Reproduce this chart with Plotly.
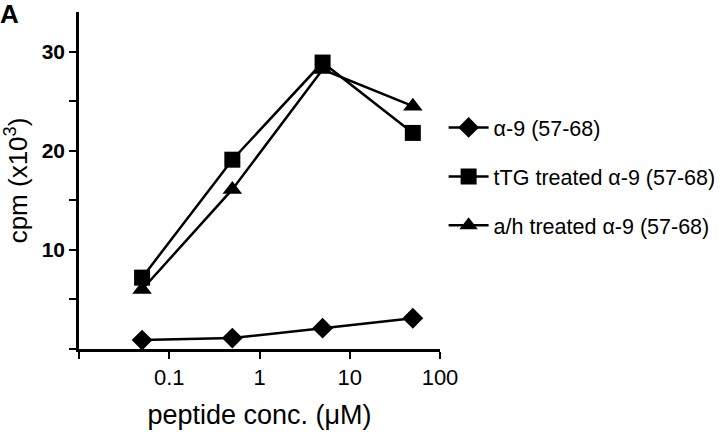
import plotly.graph_objects as go

conc = [0.05, 0.5, 5, 50]
alpha9 = [0.9, 1.1, 2.1, 3.1]
ttg = [7.2, 19.1, 28.9, 21.8]
ah = [6.0, 16.1, 28.2, 24.5]
names = ["α-9 (57-68)", "tTG treated α-9 (57-68)", "a/h treated α-9 (57-68)"]
symbols = ["diamond", "square", "triangle-up"]
sizes = [16, 16, 17]

x_tickvals = [0.01, 0.1, 1, 10, 100]
x_ticktext = ["", "0.1", "1", "10", "100"]
y_tickvals = [0, 5, 10, 15, 20, 25, 30]
y_ticktext = ["", "", "10", "", "20", "", "30"]

fig = go.Figure()
for i, (ys, nm, sym, sz) in enumerate(zip([alpha9, ttg, ah], names, symbols, sizes)):
    fig.add_trace(go.Scatter(
        x=conc, y=ys, name=nm, mode="lines+markers", legendgroup=f"g{i}",
        line=dict(color="black", width=2.5),
        marker=dict(symbol=sym, size=sz, color="black"),
    ))

font_family = "Liberation Sans, Arial, sans-serif"
fig.update_layout(
    width=720, height=432,
    margin=dict(l=79, r=280, t=12, b=83, autoexpand=False),
    paper_bgcolor="white", plot_bgcolor="white",
    font=dict(family=font_family, color="black", size=16),
    showlegend=True,
    legend=dict(x=1.01, y=0.512, xanchor="left", yanchor="middle",
                font=dict(size=21.5), tracegroupgap=18, itemwidth=40,
                bgcolor="rgba(0,0,0,0)"),
    xaxis=dict(type="log", range=[-2, 2], showgrid=False, zeroline=False,
               showline=True, linewidth=2.5, linecolor="black", automargin=False,
               ticks="outside", ticklen=7, tickwidth=2, tickcolor="black",
               tickvals=x_tickvals, ticktext=x_ticktext,
               tickfont=dict(size=22),
               title=dict(text="peptide conc. (μM)", font=dict(size=27), standoff=16)),
    yaxis=dict(range=[0, 34], showgrid=False, zeroline=False,
               showline=True, linewidth=2.5, linecolor="black", automargin=False,
               ticks="outside", ticklen=7, tickwidth=2, tickcolor="black",
               tickvals=y_tickvals, ticktext=y_ticktext,
               tickfont=dict(size=21, weight="bold"),
               title=dict(text="cpm (x10<sup>3</sup>)", font=dict(size=26), standoff=8)),
)
fig.add_annotation(text="<b>A</b>", xref="paper", yref="paper", x=-0.223, y=1.045,
                   xanchor="left", yanchor="top", showarrow=False, font=dict(size=26))
fig.write_html("out.html", config={"displayModeBar": False},
               post_script="document.body.style.margin='0';")
